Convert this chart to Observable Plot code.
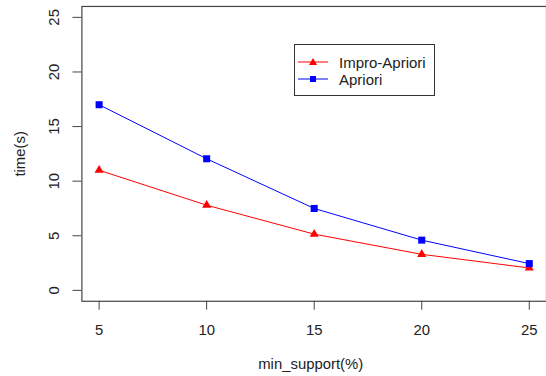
<!DOCTYPE html>
<html>
<head>
<meta charset="utf-8">
<script src="https://cdn.jsdelivr.net/npm/d3@7"></script>
<script src="https://cdn.jsdelivr.net/npm/@observablehq/plot@0.6"></script>
<style>
  html, body { margin: 0; padding: 0; background: #fff; overflow: hidden; }
  #wrap { position: relative; width: 546px; height: 376px; overflow: hidden; font-family: "Liberation Sans", Arial, sans-serif; }
  #legend { position: absolute; left: 294px; top: 44px; width: 141px; height: 52px; border: 1px solid #333; box-sizing: border-box; background: #fff; }
  #legend .row { position: absolute; left: 2px; height: 18px; display: flex; align-items: center; font-size: 15px; color: #222; }
  #legend svg { margin-right: 10px; }
</style>
</head>
<body>
<div id="wrap"></div>
<script>
const supports = [5, 10, 15, 20, 25];
const improApriori = [11.0, 7.8, 5.15, 3.3, 2.05];
const apriori = [17.0, 12.05, 7.5, 4.6, 2.45];
const seriesNames = ["Impro-Apriori", "Apriori"];
const seriesColors = ["#ff0000", "#0000ff"];
const xTicks = [5, 10, 15, 20, 25];
const yTicks = [0, 5, 10, 15, 20, 25];

const rows = [];
supports.forEach((s, i) => {
  rows.push({x: s, y: improApriori[i], series: seriesNames[0]});
  rows.push({x: s, y: apriori[i], series: seriesNames[1]});
});
const imp = rows.filter(d => d.series === seriesNames[0]);
const apr = rows.filter(d => d.series === seriesNames[1]);

const axisColor = "#444";
const chart = Plot.plot({
  width: 550,
  height: 376,
  marginLeft: 82,
  marginRight: 0,
  marginTop: 6,
  marginBottom: 73,
  style: {fontFamily: "Liberation Sans, Arial, sans-serif", fontSize: "15px", color: "#222", background: "#fff"},
  x: {domain: [4.2, 25.8]},
  y: {domain: [-1, 26]},
  marks: [
    Plot.frame({stroke: axisColor, strokeWidth: 1.2}),
    Plot.axisX({ticks: xTicks, tickSize: 9, tickPadding: 14, stroke: axisColor, label: null, fill: "#222"}),
    Plot.axisY({ticks: yTicks, tickSize: 9, tickPadding: 14, tickRotate: -90, stroke: axisColor, label: null, fill: "#222"}),
    Plot.line(imp, {x: "x", y: "y", stroke: seriesColors[0], strokeWidth: 1}),
    Plot.line(apr, {x: "x", y: "y", stroke: seriesColors[1], strokeWidth: 1}),
    Plot.dot(imp, {x: "x", y: "y", symbol: "triangle", r: 3.4, fill: seriesColors[0], stroke: "none"}),
    Plot.dot(apr, {x: "x", y: "y", symbol: "square", r: 4, fill: seriesColors[1], stroke: "none"})
  ]
});
const wrap = document.getElementById("wrap");
wrap.appendChild(chart);

// axis titles
const svg = d3.select(chart);
svg.append("text").attr("x", 313).attr("y", 372).attr("text-anchor", "middle")
  .attr("font-size", "15px").attr("fill", "#222").text("min_support(%)");
svg.append("text").attr("transform", "translate(25,155) rotate(-90)").attr("text-anchor", "middle")
  .attr("font-size", "15px").attr("fill", "#222").text("time(s)");

// legend
const legend = document.createElement("div");
legend.id = "legend";
seriesNames.forEach((name, i) => {
  const row = document.createElement("div");
  row.className = "row";
  row.style.top = (8 + i * 17) + "px";
  const s = d3.create("svg").attr("width", 32).attr("height", 12);
  s.append("line").attr("x1", 1).attr("x2", 31).attr("y1", 6).attr("y2", 6).attr("stroke", seriesColors[i]);
  if (i === 0) s.append("path").attr("d", "M16,2 L20,9 L12,9 Z").attr("fill", seriesColors[i]);
  else s.append("rect").attr("x", 13).attr("y", 3).attr("width", 6).attr("height", 6).attr("fill", seriesColors[i]);
  row.appendChild(s.node());
  const t = document.createElement("span");
  t.textContent = name;
  row.appendChild(t);
  legend.appendChild(row);
});
wrap.appendChild(legend);
</script>
</body>
</html>
